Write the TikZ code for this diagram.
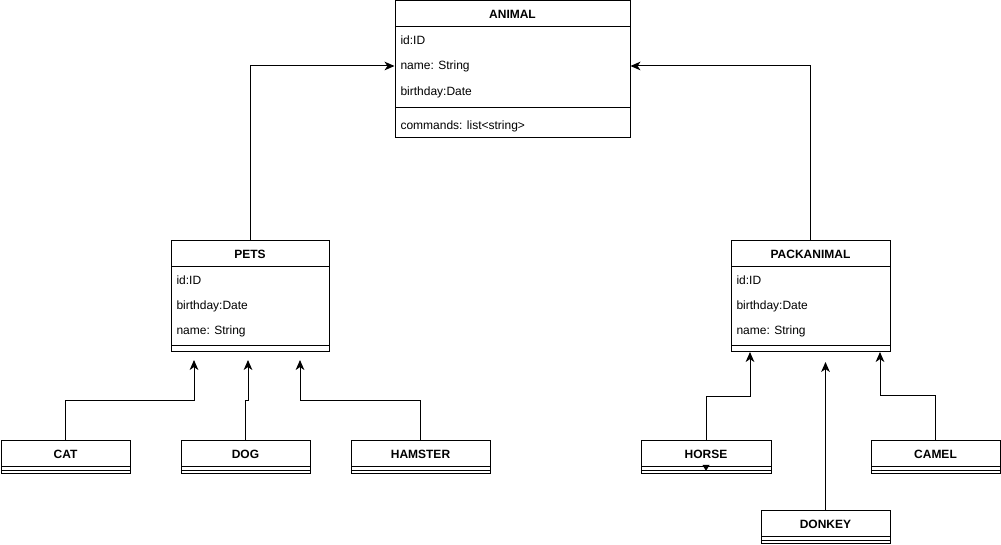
\documentclass[tikz,border=0pt]{standalone}
\usepackage{fontspec}
\setmainfont{Liberation Sans}
\usepackage{tikz}
\usetikzlibrary{arrows,arrows.meta,positioning}
\tikzset{
  >={Stealth[length=7.5pt,width=6.5pt,inset=2.2pt]},
  classbox/.style={rectangle, draw=black, line width=0.75pt, inner sep=0pt},
  classname/.style={inner sep=0pt, font=\fontsize{9}{11}\selectfont\bfseries},
  member/.style={anchor=west, inner sep=0pt, font=\fontsize{9}{11}\selectfont},
  inherit/.style={draw, line width=0.75pt, ->}
}

\begin{document}
\begin{tikzpicture}[x=0.75pt,y=-0.75pt,line width=0.75pt]
    \useasboundingbox (0,0) rectangle (1001,545);
    % Base class
    \node[classbox, minimum width=176.25pt, minimum height=102.75pt] (animal) at (512.5,69.5) {};
    \node[classname] (animaltitle) at (512.5,14) {ANIMAL};
    \draw (395,27) -- (630,27)
          (395,108) -- (630,108);
    \node[member] (anid) at (400,40) {id:ID};
    \node[member] (anname) at (400,66) {name: String};
    \node[member] (anbirth) at (400,92) {birthday:Date};
    \node[member] (ancmd) at (400,126) {commands: list<string>};

    % Pets
    \node[classbox, minimum width=118.5pt, minimum height=83.25pt] (pets) at (250,296.5) {};
    \node[classname] (petstitle) at (250,254) {PETS};
    \draw (171,267) -- (329,267)
          (171,346) -- (329,346);
    \node[member] (petsid) at (176,280) {id:ID};
    \node[member] (petsbirth) at (176,306) {birthday:Date};
    \node[member] (petsname) at (176,331) {name: String};

    % Pack animals
    \node[classbox, minimum width=119.25pt, minimum height=83.25pt] (packanimal) at (810.5,296.5) {};
    \node[classname] (packtitle) at (810.5,254) {PACKANIMAL};
    \draw (731,267) -- (890,267)
          (731,346) -- (890,346);
    \node[member] (packid) at (736,280) {id:ID};
    \node[member] (packbirth) at (736,306) {birthday:Date};
    \node[member] (packname) at (736,331) {name: String};

    % Leaf classes
    \node[classbox, minimum width=96.75pt, minimum height=24.75pt] (cat) at (65.5,457.5) {};
    \node[classname] (cattitle) at (65.5,454) {CAT};
    \draw (1,467) -- (130,467) (1,470.5) -- (130,470.5);
    \node[classbox, minimum width=96.75pt, minimum height=24.75pt] (dog) at (245.5,457.5) {};
    \node[classname] (dogtitle) at (245.5,454) {DOG};
    \draw (181,467) -- (310,467) (181,470.5) -- (310,470.5);
    \node[classbox, minimum width=104.25pt, minimum height=24.75pt] (hamster) at (420.5,457.5) {};
    \node[classname] (hamstertitle) at (420.5,454) {HAMSTER};
    \draw (351,467) -- (490,467) (351,470.5) -- (490,470.5);
    \node[classbox, minimum width=97.5pt, minimum height=24.75pt] (horse) at (706,457.5) {};
    \node[classname] (horsetitle) at (706,454) {HORSE};
    \draw (641,467) -- (771,467) (641,470.5) -- (771,470.5);
    \fill (702.5,465) -- (709.5,465) -- (706,471) -- cycle;
    \node[classbox, minimum width=96.75pt, minimum height=24.75pt] (camel) at (935.5,457.5) {};
    \node[classname] (cameltitle) at (935.5,454) {CAMEL};
    \draw (871,467) -- (1000,467) (871,470.5) -- (1000,470.5);
    \node[classbox, minimum width=96.75pt, minimum height=24.75pt] (donkey) at (825.5,527.5) {};
    \node[classname] (donkeytitle) at (825.5,524) {DONKEY};
    \draw (761,537) -- (890,537) (761,540.5) -- (890,540.5);

    % Draw inheritance arrows
    \coordinate (catend) at (194,360);
    \coordinate (dogend) at (248,360);
    \coordinate (hamsterend) at (300,360);
    \coordinate (horseend) at (750,352);
    \coordinate (donkeyend) at (825.5,362);
    \coordinate (camelend) at (880,352);
    \draw[inherit] (pets.north) |- (animal.west |- anname);
    \draw[inherit] (packanimal.north) |- (animal.east |- anname);
    \draw[inherit] (cat.north) -- ++(0,-40) -| (catend);
    \draw[inherit] (dog.north) -- ++(0,-40) -| (dogend);
    \draw[inherit] (hamster.north) -- ++(0,-40) -| (hamsterend);
    \draw[inherit] (horse.north) -- ++(0,-44) -| (horseend);
    \draw[inherit] (donkey.north) -- (donkeyend);
    \draw[inherit] (camel.north) -- ++(0,-45) -| (camelend);

\end{tikzpicture}
\end{document}
